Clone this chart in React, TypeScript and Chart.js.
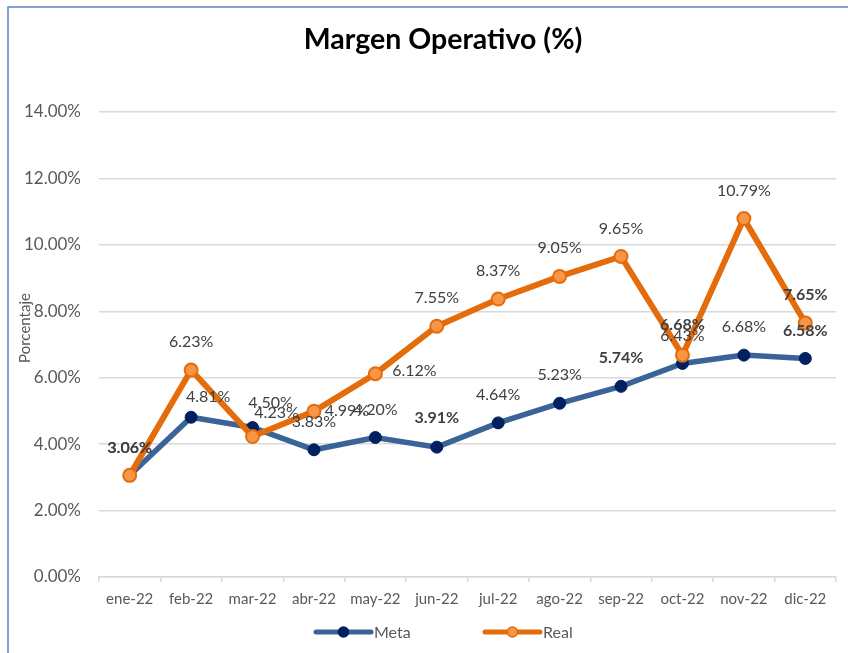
import React, { useEffect, useRef } from "react";
import { Chart, registerables } from "chart.js";

Chart.register(...registerables);

const title = "Margen Operativo (%)";
const axisTitle = "Porcentaje";
const categories = ["ene-22", "feb-22", "mar-22", "abr-22", "may-22", "jun-22", "jul-22", "ago-22", "sep-22", "oct-22", "nov-22", "dic-22"];
const metaValues = [3.06, 4.81, 4.5, 3.83, 4.2, 3.91, 4.64, 5.23, 5.74, 6.43, 6.68, 6.58];
const realValues = [3.06, 6.23, 4.23, 4.99, 6.12, 7.55, 8.37, 9.05, 9.65, 6.68, 10.79, 7.65];
const seriesNames = ["Meta", "Real"];

// label placement styling (dx, dy relative to point, bold flag)
const metaLabelDx = [0, 17, 18, 0, 0, 0, 0, 0, 0, 0, 0, 0];
const metaLabelDy = [-28, -20, -25, -28, -28, -29, -28, -28, -29, -28, -28, -28];
const metaLabelBold = [false, false, false, false, false, true, false, false, true, false, false, true];
const realLabelDx = [0, 0, 24, 33, 39, 0, 0, 0, 0, 0, 0, 0];
const realLabelDy = [-28, -28, -24, 0, -3, -28, -28, -29, -28, -30, -28, -28];
const realLabelBold = [true, false, false, false, false, false, false, false, false, true, false, true];

const FONT = "Lato, 'DejaVu Sans', sans-serif";
const META_LINE = "#3A6497";
const META_POINT = "#002060";
const REAL_LINE = "#E46C0A";
const REAL_POINT = "#F79646";

export default function App() {
  const ref = useRef<HTMLCanvasElement | null>(null);
  useEffect(() => {
    if (!ref.current) return;
    const labelsPlugin = {
      id: "customDecor",
      beforeDraw(chart: any) {
        const ctx = chart.ctx;
        ctx.save();
        ctx.fillStyle = "#ffffff";
        ctx.fillRect(0, 0, chart.width, chart.height);
        ctx.strokeStyle = "#5B87C1";
        ctx.lineWidth = 1.5;
        ctx.beginPath();
        ctx.moveTo(8, 653);
        ctx.lineTo(8, 7);
        ctx.lineTo(848, 7);
        ctx.stroke();
        ctx.restore();
      },
      afterDraw(chart: any) {
        const ctx = chart.ctx;
        ctx.save();
        // title
        ctx.fillStyle = "#000000";
        ctx.font = `bold 28.5px ${FONT}`;
        ctx.textAlign = "center";
        ctx.textBaseline = "middle";
        ctx.fillText(title, 443, 40);
        // axis title
        ctx.save();
        ctx.translate(25, 328);
        ctx.rotate(-Math.PI / 2);
        ctx.font = `15px ${FONT}`;
        ctx.fillStyle = "#595959";
        ctx.fillText(axisTitle, 0, 0);
        ctx.restore();
        // data labels
        const sets = [
          { idx: 0, dx: metaLabelDx, dy: metaLabelDy, bold: metaLabelBold },
          { idx: 1, dx: realLabelDx, dy: realLabelDy, bold: realLabelBold },
        ];
        ctx.fillStyle = "#404040";
        for (const s of sets) {
          const meta = chart.getDatasetMeta(s.idx);
          const data = chart.data.datasets[s.idx].data as number[];
          meta.data.forEach((pt: any, i: number) => {
            ctx.font = `${s.bold[i] ? "bold " : ""}16px ${FONT}`;
            ctx.fillText(data[i].toFixed(2) + "%", pt.x + s.dx[i], pt.y + s.dy[i]);
          });
        }
        // legend
        const legendY = 632;
        const items = [
          { name: seriesNames[0], x: 316, line: META_LINE, fill: META_POINT, border: META_POINT },
          { name: seriesNames[1], x: 485, line: REAL_LINE, fill: REAL_POINT, border: REAL_LINE },
        ];
        ctx.font = `16px ${FONT}`;
        ctx.textAlign = "left";
        for (const it of items) {
          ctx.strokeStyle = it.line;
          ctx.lineWidth = 5;
          ctx.lineCap = "round";
          ctx.beginPath();
          ctx.moveTo(it.x, legendY);
          ctx.lineTo(it.x + 55, legendY);
          ctx.stroke();
          ctx.beginPath();
          ctx.arc(it.x + 27.5, legendY, 5, 0, Math.PI * 2);
          ctx.fillStyle = it.fill;
          ctx.fill();
          ctx.lineWidth = 1.5;
          ctx.strokeStyle = it.border;
          ctx.stroke();
          ctx.fillStyle = "#595959";
          ctx.fillText(it.name, it.x + 58, legendY + 1);
        }
        ctx.restore();
      },
    };

    const chart = new Chart(ref.current, {
      type: "line",
      data: {
        labels: categories,
        datasets: [
          {
            label: seriesNames[0],
            data: metaValues,
            borderColor: META_LINE,
            borderWidth: 5.5,
            backgroundColor: META_POINT,
            pointBackgroundColor: META_POINT,
            pointBorderColor: META_POINT,
            pointBorderWidth: 1,
            pointRadius: 6,
            tension: 0,
            order: 2,
          },
          {
            label: seriesNames[1],
            data: realValues,
            borderColor: REAL_LINE,
            borderWidth: 6,
            backgroundColor: REAL_POINT,
            pointBackgroundColor: REAL_POINT,
            pointBorderColor: REAL_LINE,
            pointBorderWidth: 2,
            pointRadius: 6.5,
            tension: 0,
            order: 1,
          },
        ],
      },
      plugins: [labelsPlugin],
      options: {
        responsive: false,
        animation: false,
        layout: { padding: { left: 0, top: 112, right: 12, bottom: 0 } },
        plugins: {
          legend: { display: false },
          title: { display: false },
          tooltip: { enabled: false },
        },
        scales: {
          x: {
            offset: true,
            afterFit: (s: any) => { s.height = 76; },
            grid: {
              offset: true,
              drawOnChartArea: false,
              drawTicks: true,
              tickLength: 5,
              color: "#D9D9D9",
              lineWidth: 1.5,
            },
            border: { color: "#D9D9D9", width: 1.5 },
            ticks: {
              color: "#595959",
              font: { family: FONT, size: 15 },
              padding: 8,
              maxRotation: 0,
              autoSkip: false,
            },
          },
          y: {
            min: 0,
            max: 14,
            afterFit: (s: any) => { s.width = 99; },
            grid: { color: "#D9D9D9", lineWidth: 1.5, drawTicks: false },
            border: { display: false },
            ticks: {
              stepSize: 2,
              color: "#595959",
              font: { family: FONT, size: 17 },
              padding: 18,
              callback: (v: any) => Number(v).toFixed(2) + "%",
            },
          },
        },
      },
    });
    return () => chart.destroy();
  }, []);

  return (
    <div style={{ position: "absolute", left: 0, top: 0, width: 848, height: 653 }}>
      <canvas ref={ref} width={848} height={653} style={{ width: 848, height: 653, display: "block" }} />
    </div>
  );
}
